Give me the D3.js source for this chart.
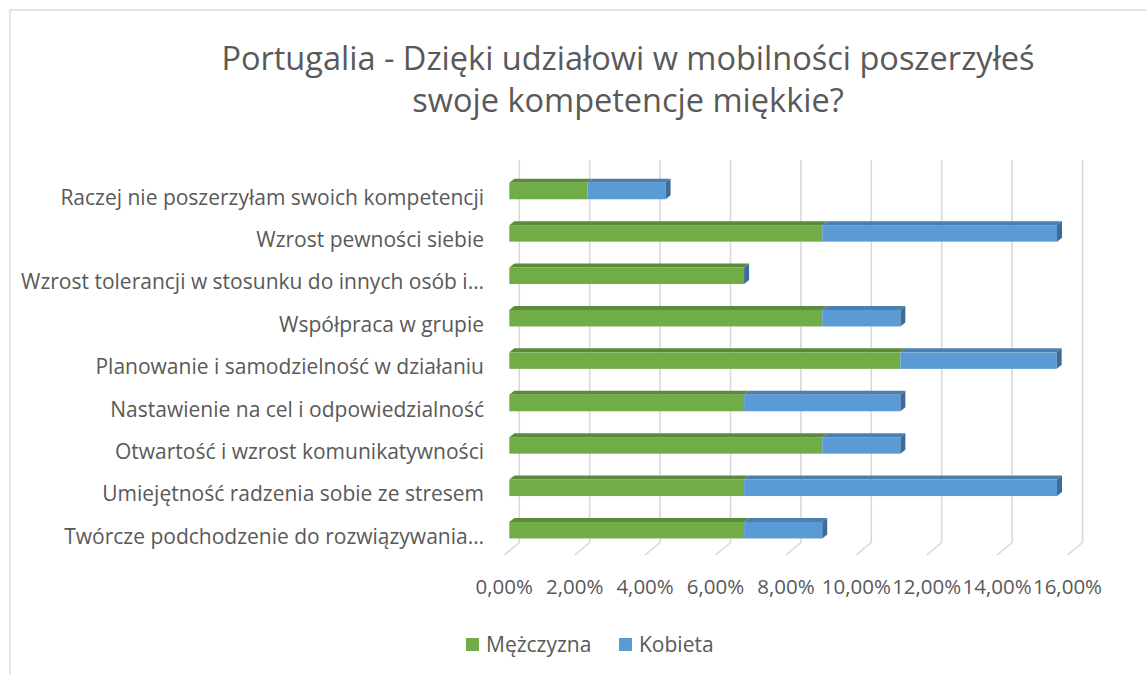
<!DOCTYPE html>
<html>
<head>
<meta charset="utf-8">
<script src="https://cdn.jsdelivr.net/npm/d3@7/dist/d3.min.js"></script>
<style>
  html, body { margin: 0; padding: 0; background: #fff; }
  svg { display: block; font-family: "Open Sans", "Noto Sans", sans-serif; }
</style>
</head>
<body>
<svg id="chart" width="1147" height="675"></svg>
<script>
// Answer categories, top to bottom
const categories = [
  "Raczej nie poszerzyłam swoich kompetencji",
  "Wzrost pewności siebie",
  "Wzrost tolerancji w stosunku do innych osób i…",
  "Współpraca w grupie",
  "Planowanie i samodzielność w działaniu",
  "Nastawienie na cel i odpowiedzialność",
  "Otwartość i wzrost komunikatywności",
  "Umiejętność radzenia sobie ze stresem",
  "Twórcze podchodzenie do rozwiązywania…"
];
// Share of respondents (%) by gender
const men   = [2.22, 8.89, 6.67, 8.89, 11.11, 6.67, 8.89, 6.67, 6.67];
const women = [2.22, 6.67, 0.00, 2.22, 4.44, 4.44, 2.22, 8.89, 2.22];
const seriesNames = ["Mężczyzna", "Kobieta"];
const tickValues = [0, 2, 4, 6, 8, 10, 12, 14, 16];
const titleLines = [
  "Portugalia - Dzięki udziałowi w mobilności poszerzyłeś",
  "swoje kompetencje miękkie?"
];

const colors = {
  front: ["#70AD47", "#5B9BD5"],
  top:   ["#5B8A3A", "#4A7FB0"],
  side:  ["#4E7A31", "#3E6C98"]
};
const textColor = "#595959";
const gridColor = "#D9D9D9";

const svg = d3.select("#chart");

// Chart frame
svg.append("rect")
  .attr("x", 10).attr("y", 10)
  .attr("width", 1200).attr("height", 700)
  .attr("fill", "none").attr("stroke", gridColor).attr("stroke-width", 1.3);

// Title
svg.append("g").selectAll("text")
  .data(titleLines).join("text")
  .attr("x", 628).attr("y", (d, i) => 70 + i * 42)
  .attr("text-anchor", "middle")
  .attr("font-size", 32.5)
  .attr("fill", textColor)
  .text(d => d);

// Scales (front plane of the bars)
const x = d3.scaleLinear().domain([0, 16]).range([509.3, 509.3 + 35.2 * 16]);
const y = d3.scalePoint().domain(categories).range([191, 191 + 42.4 * 8]);
const barH = 16.5;
const depth = { dx: 5, dy: -4 };      // bar depth offset
const wall = { dx: 10, top: 160, bottom: 542.5 };  // back wall relative to bar front
const floor = { dx: -15, dy: 12.5 };  // floor edge offset from back wall

// Gridlines on back wall + floor
const grid = svg.append("g")
  .attr("fill", "none").attr("stroke", gridColor).attr("stroke-width", 1.6);
grid.selectAll("path").data(tickValues).join("path")
  .attr("d", v => {
    const bx = x(v) + wall.dx;
    return `M${bx},${wall.top}L${bx},${wall.bottom}L${bx + floor.dx},${wall.bottom + floor.dy}`;
  });

// Tick labels along the front floor edge
svg.append("g").selectAll("text")
  .data(tickValues).join("text")
  .attr("x", v => x(v) + wall.dx + floor.dx)
  .attr("y", 594)
  .attr("text-anchor", "middle")
  .attr("font-size", 20.5)
  .attr("fill", textColor)
  .text(v => d3.format(".2f")(v).replace(".", ",") + "%");

// Category labels
svg.append("g").selectAll("text")
  .data(categories).join("text")
  .attr("x", 484)
  .attr("y", d => y(d) + 13.5)
  .attr("text-anchor", "end")
  .attr("font-size", 21)
  .attr("fill", textColor)
  .text(d => d);

// Stacked 3D bars
const rows = categories.map((c, i) => ({ cat: c, values: [men[i], women[i]] }));
const segs = [];
rows.forEach(r => {
  let acc = 0;
  r.values.forEach((v, s) => {
    segs.push({ cat: r.cat, s, x0: acc, x1: acc + v });
    acc += v;
  });
});

const bars = svg.append("g");
segs.forEach(d => {
  const yt = y(d.cat) - barH / 2;
  const a = x(d.x0), b = x(d.x1);
  const g = bars.append("g");
  // top face
  g.append("path")
    .attr("d", `M${a},${yt}L${b},${yt}L${b + depth.dx},${yt + depth.dy}L${a + depth.dx},${yt + depth.dy}Z`)
    .attr("fill", colors.top[d.s]);
  // front face
  g.append("rect")
    .attr("x", a).attr("y", yt)
    .attr("width", Math.max(0, b - a)).attr("height", barH)
    .attr("fill", colors.front[d.s]);
});
// right side face of each stack (end of last series)
rows.forEach(r => {
  const yt = y(r.cat) - barH / 2;
  const b = x(d3.sum(r.values));
  bars.append("path")
    .attr("d", `M${b},${yt}L${b + depth.dx},${yt + depth.dy}L${b + depth.dx},${yt + barH + depth.dy}L${b},${yt + barH}Z`)
    .attr("fill", colors.side[1]);
});

// Legend
const legend = svg.append("g");
const legendItems = [
  { name: seriesNames[0], color: colors.front[0], x: 466 },
  { name: seriesNames[1], color: colors.front[1], x: 619 }
];
legendItems.forEach(it => {
  legend.append("rect")
    .attr("x", it.x).attr("y", 638).attr("width", 13).attr("height", 13)
    .attr("fill", it.color);
  legend.append("text")
    .attr("x", it.x + 20).attr("y", 652)
    .attr("font-size", 21)
    .attr("fill", textColor)
    .text(it.name);
});
</script>
</body>
</html>
